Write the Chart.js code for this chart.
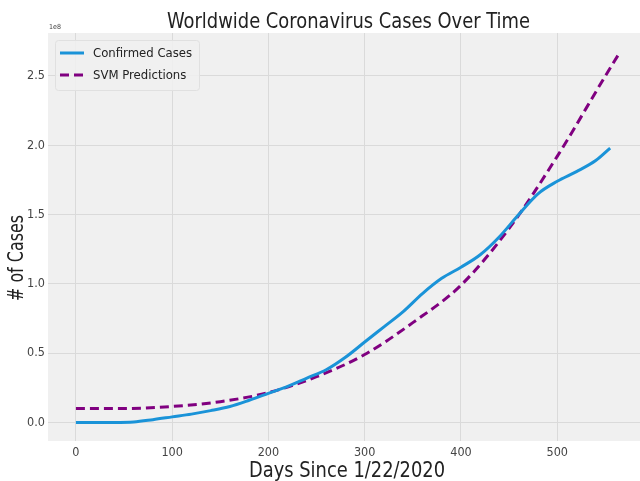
<!DOCTYPE html>
<html>
<head>
<meta charset="utf-8">
<script src="https://cdn.jsdelivr.net/npm/chart.js@4.4.0/dist/chart.umd.min.js"></script>
<style>
  html, body { margin: 0; padding: 0; background: #fff; }
  #wrap { width: 640px; height: 481px; }
</style>
</head>
<body>
<div id="wrap"><canvas id="c" width="640" height="481"></canvas></div>
<script>
// days since 1/22/2020, values in units of 1e8
const confirmedDays = [0, 20, 40, 60, 80, 100, 120, 140, 160, 180, 200, 220, 240, 260, 280, 300, 320, 340, 360, 380, 400, 420, 440, 460, 480, 500, 520, 540, 555];
const confirmedCases = [0, 0, 0, 0.003, 0.02, 0.04, 0.06, 0.085, 0.115, 0.16, 0.21, 0.26, 0.32, 0.38, 0.47, 0.58, 0.69, 0.8, 0.93, 1.04, 1.12, 1.21, 1.34, 1.5, 1.65, 1.74, 1.81, 1.89, 1.98];

const svmDays = [0, 50, 100, 150, 200, 250, 300, 350, 400, 450, 500, 550, 565];
const svmCases = [0.1, 0.1, 0.115, 0.15, 0.215, 0.33, 0.49, 0.72, 0.99, 1.4, 1.92, 2.5, 2.67];

const xTicks = [0, 100, 200, 300, 400, 500];
const yTicks = [0, 0.5, 1, 1.5, 2, 2.5];

const titleText = 'Worldwide Coronavirus Cases Over Time';
const xLabel = 'Days Since 1/22/2020';
const yLabel = '# of Cases';

const FONT = '"DejaVu Sans Condensed", "DejaVu Sans", sans-serif';

const pts = (xs, ys) => xs.map((x, i) => ({ x: x, y: ys[i] }));

// plot background, legend and text labels
const decor = {
  id: 'decor',
  beforeDraw(chart) {
    const { ctx, chartArea: a } = chart;
    ctx.save();
    ctx.fillStyle = '#f0f0f0';
    ctx.fillRect(a.left, a.top, a.right - a.left, a.bottom - a.top);
    ctx.restore();
  },
  afterDatasetsDraw(chart) {
    const ctx = chart.ctx;
    ctx.save();
    ctx.fillStyle = 'rgba(240,240,240,0.85)';
    ctx.strokeStyle = '#e0e0e0';
    ctx.lineWidth = 1;
    ctx.beginPath();
    ctx.roundRect(55.5, 40.5, 144, 50, 3);
    ctx.fill();
    ctx.stroke();
    ctx.font = '13px ' + FONT;
    ctx.textBaseline = 'middle';
    ctx.textAlign = 'left';
    chart.data.datasets.forEach((ds, i) => {
      const y = 53 + i * 22;
      ctx.strokeStyle = ds.borderColor;
      ctx.lineWidth = ds.borderWidth;
      ctx.setLineDash(ds.borderDash || []);
      ctx.beginPath();
      ctx.moveTo(60, y);
      ctx.lineTo(84, y);
      ctx.stroke();
      ctx.setLineDash([]);
      ctx.fillStyle = '#222';
      ctx.fillText(ds.label, 93, y + 1);
    });
    ctx.restore();
  },
  afterDraw(chart) {
    const ctx = chart.ctx;
    ctx.save();
    ctx.fillStyle = '#222';
    ctx.textBaseline = 'alphabetic';
    ctx.textAlign = 'left';
    ctx.font = '20.5px ' + FONT;
    ctx.fillText(titleText, 167, 28, 363);
    ctx.textAlign = 'center';
    ctx.fillText(xLabel, 347, 477, 196);
    ctx.save();
    ctx.translate(23, 258);
    ctx.rotate(-Math.PI / 2);
    ctx.fillText(yLabel, 0, 0, 86);
    ctx.restore();
    ctx.fillStyle = '#444';
    ctx.textAlign = 'left';
    ctx.font = '7px ' + FONT;
    ctx.fillText('1e8', 49, 29);
    ctx.restore();
  }
};

new Chart(document.getElementById('c'), {
  type: 'line',
  data: {
    datasets: [
      {
        label: 'Confirmed Cases',
        data: pts(confirmedDays, confirmedCases),
        borderColor: '#1a93d8',
        backgroundColor: '#1a93d8',
        borderWidth: 3,
        pointRadius: 0,
        cubicInterpolationMode: 'monotone',
        fill: false
      },
      {
        label: 'SVM Predictions',
        data: pts(svmDays, svmCases),
        borderColor: '#800080',
        backgroundColor: '#800080',
        borderWidth: 3,
        borderDash: [9, 5],
        pointRadius: 0,
        cubicInterpolationMode: 'monotone',
        fill: false
      }
    ]
  },
  options: {
    responsive: false,
    animation: false,
    layout: { padding: { left: 0, top: 33, right: 0, bottom: 0 } },
    plugins: {
      title: { display: false },
      tooltip: { enabled: false },
      legend: { display: false }
    },
    scales: {
      x: {
        type: 'linear',
        min: -29,
        max: 586,
        afterFit: s => { s.height = 40; },
        afterBuildTicks: s => { s.ticks = xTicks.map(v => ({ value: v })); },
        grid: { color: '#dadada', lineWidth: 1, drawTicks: false },
        border: { display: false },
        ticks: {
          color: '#444',
          padding: 4,
          maxRotation: 0,
          font: { family: FONT, size: 12.5 }
        }
      },
      y: {
        min: -0.134,
        max: 2.81,
        afterFit: s => { s.width = 48; },
        afterBuildTicks: s => { s.ticks = yTicks.map(v => ({ value: v })); },
        grid: { color: '#dadada', lineWidth: 1, drawTicks: false },
        border: { display: false },
        ticks: {
          color: '#444',
          padding: 3,
          font: { family: FONT, size: 12.5 },
          callback: v => v.toFixed(1)
        }
      }
    }
  },
  plugins: [decor]
});
</script>
</body>
</html>
